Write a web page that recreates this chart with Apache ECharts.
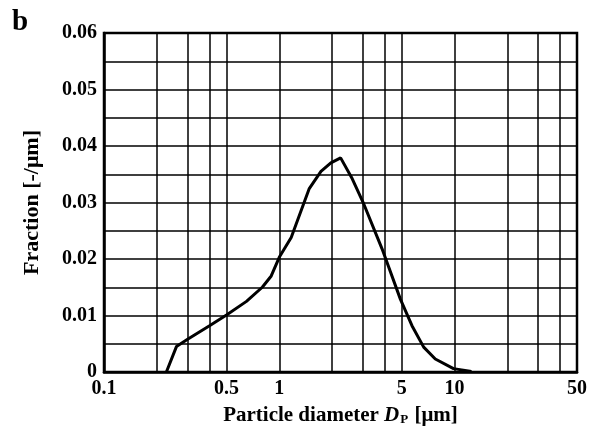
<!DOCTYPE html>
<html>
<head>
<meta charset="utf-8">
<script src="https://cdn.jsdelivr.net/npm/echarts@6/dist/echarts.min.js"></script>
<style>html,body{margin:0;padding:0;background:#fff;}#c{width:590px;height:436px;}</style>
</head>
<body>
<div id="c"></div>
<script>
// Data
var diameters = [0.227, 0.259, 0.3, 0.4, 0.5, 0.65, 0.8, 0.9, 1.0, 1.17, 1.48, 1.73, 1.97, 2.24, 2.61, 3.04, 3.86, 4.91, 5.72, 6.67, 7.77, 9.87, 12.5];
var fractions = [0, 0.0045, 0.0058, 0.0082, 0.0101, 0.0125, 0.015, 0.017, 0.0203, 0.0238, 0.0324, 0.0355, 0.037, 0.0379, 0.0342, 0.0297, 0.0218, 0.0129, 0.0082, 0.0044, 0.0023, 0.0006, 0.0001];
var xTickLabels = [0.1, 0.5, 1, 5, 10, 50];
var xGridValues = [0.2, 0.3, 0.4, 0.5, 1, 2, 3, 4, 5, 10, 20, 30, 40];
var yTicks = [0, 0.01, 0.02, 0.03, 0.04, 0.05, 0.06];

var font = '"Liberation Serif", "DejaVu Serif", serif';
var pts = diameters.map(function (d, i) { return [d, fractions[i]]; });

var chart = echarts.init(document.getElementById('c'), null, { renderer: 'canvas' });
chart.setOption({
  animation: false,
  backgroundColor: '#fff',
  title: {
    text: 'b', left: 7, top: 3,
    textStyle: { fontFamily: font, fontWeight: 'bold', fontSize: 29, color: '#000' }
  },
  grid: {
    left: 104, right: 12, top: 33, bottom: 64,
    show: true, borderColor: '#000', borderWidth: 2.5, backgroundColor: 'transparent'
  },
  xAxis: {
    type: 'log', logBase: 10, min: 0.1, max: 50,
    axisLine: { show: true, lineStyle: { color: '#000', width: 2.5 } },
    axisTick: { show: false },
    splitLine: { show: false },
    minorTick: { show: false },
    axisLabel: {
      customValues: xTickLabels,
      formatter: function (v) { return String(+v.toPrecision(3)); },
      fontFamily: font, fontWeight: 'bold', fontSize: 20, color: '#000', margin: 7
    },
    name: 'Particle diameter {i|D}{s|P} [μm]',
    nameLocation: 'middle', nameGap: 33,
    nameTextStyle: {
      fontFamily: font, fontWeight: 'bold', fontSize: 21, color: '#000',
      rich: {
        i: { fontFamily: font, fontWeight: 'bold', fontStyle: 'italic', fontSize: 21, color: '#000' },
        s: { fontFamily: font, fontWeight: 'bold', fontSize: 13, color: '#000', verticalAlign: 'bottom', padding: [8, 1, 0, 1] }
      }
    }
  },
  yAxis: {
    type: 'value', min: 0, max: 0.06, interval: 0.01,
    axisLine: { show: true, lineStyle: { color: '#000', width: 2.5 } },
    axisTick: { show: false },
    splitLine: { show: true, lineStyle: { color: '#000', width: 1.5 } },
    minorTick: { show: false, splitNumber: 2 },
    minorSplitLine: { show: true, lineStyle: { color: '#000', width: 1.5 } },
    axisLabel: {
      formatter: function (v) { return String(+v.toFixed(3)); },
      fontFamily: font, fontWeight: 'bold', fontSize: 20, color: '#000', margin: 7
    },
    name: 'Fraction [-/μm]',
    nameLocation: 'middle', nameGap: 61, nameRotate: 90,
    nameTextStyle: { fontFamily: font, fontWeight: 'bold', fontSize: 22, color: '#000' }
  },
  series: [{
    type: 'line',
    data: pts,
    showSymbol: false,
    lineStyle: { color: '#000', width: 3 },
    z: 5,
    markLine: {
      silent: true, symbol: 'none', label: { show: false },
      lineStyle: { color: '#000', width: 1.5, type: 'solid' },
      data: xGridValues.map(function (v) { return { xAxis: v }; }),
      z: 1
    }
  }]
});
</script>
</body>
</html>
